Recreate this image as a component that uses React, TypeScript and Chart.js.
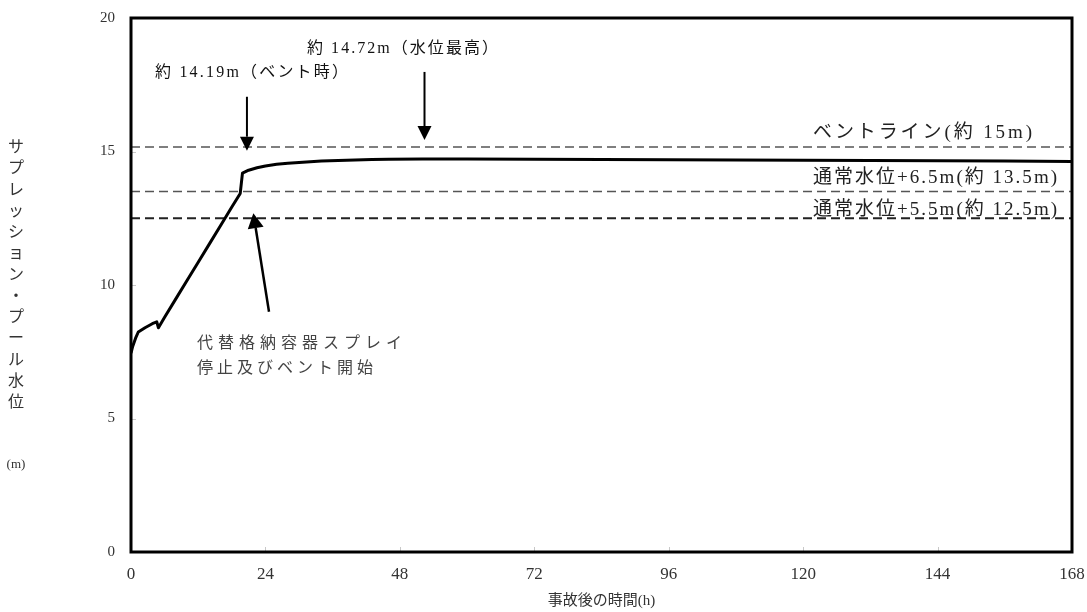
import React, { useEffect, useRef } from "react";
import { Chart, registerables } from "chart.js";

Chart.register(...registerables);

// ---- data ----
const timeH = [0, 0.3, 0.8, 1.3, 2.5, 3.8, 4.6, 4.9, 6, 8, 10, 12, 14, 16, 18, 19.5, 19.9, 21, 22.5, 24, 26, 28, 30, 32, 34, 37, 40, 43, 46, 52, 60, 72, 84, 96, 108, 120, 132, 144, 156, 168];
const levelM = [7.45, 7.7, 8.0, 8.24, 8.4, 8.55, 8.62, 8.4, 8.79, 9.48, 10.17, 10.85, 11.54, 12.23, 12.92, 13.43, 14.19, 14.3, 14.39, 14.46, 14.52, 14.56, 14.59, 14.62, 14.64, 14.66, 14.68, 14.7, 14.71, 14.72, 14.72, 14.71, 14.7, 14.69, 14.68, 14.67, 14.66, 14.65, 14.64, 14.63];

const ventLine = 15.17;
const level65 = 13.5;
const level55 = 12.5;

const xTicks = [0, 24, 48, 72, 96, 120, 144, 168];
const yTicks = [0, 5, 10, 15, 20];

const yTitleChars = ["サ", "プ", "レ", "ッ", "シ", "ョ", "ン", "・", "プ", "ー", "ル", "水", "位"];
const yUnit = "(m)";
const xTitle = "事故後の時間(h)";

// arrows in data coordinates: [t, v]
const arrowFrom = [
  [20.7, 17.05],
  [52.4, 17.98],
  [24.64, 9.0],
];
const arrowTo = [
  [20.7, 15.03],
  [52.4, 15.43],
  [21.84, 12.69],
];

// text notes
const noteTexts = [
  "約 14.72m（水位最高）",
  "約 14.19m（ベント時）",
  "ベントライン(約 15m)",
  "通常水位+6.5m(約 13.5m)",
  "通常水位+5.5m(約 12.5m)",
  "代替格納容器スプレイ",
  "停止及びベント開始",
];
const noteLeft = [307, 155, 813, 813, 813, 197, 197];
const noteY = [49, 73, 133, 178, 210, 344, 369];
const noteWidth = [191, 193, 219, 244, 244, 205, 176];
const noteSize = [16, 16, 19, 19, 19, 16, 16];
const noteColor = ["#111", "#111", "#222", "#222", "#222", "#444", "#444"];

const FONT_FAMILY = "'Liberation Serif', 'Noto Sans CJK JP', serif";

function drawFitted(ctx: CanvasRenderingContext2D, text: string, x: number, y: number, width: number) {
  const chars = Array.from(text);
  const widths = chars.map((c) => ctx.measureText(c).width);
  const total = widths.reduce((a, b) => a + b, 0);
  const extra = chars.length > 1 ? (width - total) / (chars.length - 1) : 0;
  let cx = x;
  chars.forEach((c, i) => {
    ctx.fillText(c, cx, y);
    cx += widths[i] + extra;
  });
}

const overlay = {
  id: "overlay",
  afterDatasetsDraw(chart: any) {
    const { ctx, chartArea: a, scales } = chart;
    const xs = scales.x;
    const ys = scales.y;
    ctx.save();

    // faint inner tick marks
    ctx.strokeStyle = "#c8c8c8";
    ctx.lineWidth = 1;
    xTicks.forEach((t) => {
      const px = Math.round(xs.getPixelForValue(t)) + 0.5;
      ctx.beginPath();
      ctx.moveTo(px, a.bottom);
      ctx.lineTo(px, a.bottom - 5);
      ctx.stroke();
    });
    yTicks.forEach((v) => {
      const py = Math.round(ys.getPixelForValue(v)) + 0.5;
      ctx.beginPath();
      ctx.moveTo(a.left, py);
      ctx.lineTo(a.left + 5, py);
      ctx.stroke();
    });

    // frame
    ctx.strokeStyle = "#000";
    ctx.lineWidth = 3;
    ctx.strokeRect(a.left, a.top, a.right - a.left, a.bottom - a.top);

    // arrows
    ctx.fillStyle = "#000";
    arrowFrom.forEach((f, i) => {
      const t = arrowTo[i];
      const x1 = xs.getPixelForValue(f[0]);
      const y1 = ys.getPixelForValue(f[1]);
      const x2 = xs.getPixelForValue(t[0]);
      const y2 = ys.getPixelForValue(t[1]);
      const ang = Math.atan2(y2 - y1, x2 - x1);
      const headLen = i === 2 ? 15 : 14;
      const headW = i === 2 ? 8 : 7;
      const bx = x2 - Math.cos(ang) * headLen;
      const by = y2 - Math.sin(ang) * headLen;
      ctx.lineWidth = i === 2 ? 2.5 : 2;
      ctx.beginPath();
      ctx.moveTo(x1, y1);
      ctx.lineTo(bx, by);
      ctx.stroke();
      ctx.beginPath();
      ctx.moveTo(x2, y2);
      ctx.lineTo(bx + Math.sin(ang) * headW, by - Math.cos(ang) * headW);
      ctx.lineTo(bx - Math.sin(ang) * headW, by + Math.cos(ang) * headW);
      ctx.closePath();
      ctx.fill();
    });

    // notes
    ctx.textBaseline = "middle";
    ctx.textAlign = "left";
    noteTexts.forEach((txt, i) => {
      ctx.font = `${noteSize[i]}px ${FONT_FAMILY}`;
      ctx.fillStyle = noteColor[i];
      drawFitted(ctx, txt, noteLeft[i], noteY[i], noteWidth[i]);
    });

    // y axis title (vertical stacked)
    ctx.textAlign = "center";
    ctx.fillStyle = "#333";
    ctx.font = `16px ${FONT_FAMILY}`;
    yTitleChars.forEach((c, i) => {
      ctx.fillText(c, 16, 148 + i * 21.25);
    });
    ctx.font = `13px ${FONT_FAMILY}`;
    ctx.fillText(yUnit, 16, 465);

    // x axis title
    ctx.font = `15px ${FONT_FAMILY}`;
    ctx.fillStyle = "#333";
    ctx.fillText(xTitle, (a.left + a.right) / 2, 601);

    ctx.restore();
  },
};

function dashed(v: number, color: string, width: number) {
  return {
    data: [
      { x: xTicks[0], y: v },
      { x: xTicks[xTicks.length - 1], y: v },
    ],
    borderColor: color,
    borderWidth: width,
    borderDash: [9, 5],
    pointRadius: 0,
    order: 2,
  };
}

export default function App() {
  const ref = useRef<HTMLCanvasElement | null>(null);
  useEffect(() => {
    if (!ref.current) return;
    const chart = new Chart(ref.current, {
      type: "line",
      data: {
        datasets: [
          {
            data: timeH.map((t, i) => ({ x: t, y: levelM[i] })),
            borderColor: "#000",
            borderWidth: 3,
            pointRadius: 0,
            tension: 0,
            borderJoinStyle: "round",
            order: 0,
          } as any,
          dashed(ventLine, "#555", 1.5),
          dashed(level65, "#555", 1.5),
          dashed(level55, "#222", 2),
        ],
      },
      options: {
        responsive: false,
        animation: false,
        devicePixelRatio: 1,
        layout: { padding: { top: 18, right: 15, left: 0, bottom: 0 } },
        plugins: { legend: { display: false }, tooltip: { enabled: false } },
        scales: {
          x: {
            type: "linear",
            min: 0,
            max: 168,
            afterBuildTicks: (s: any) => {
              s.ticks = xTicks.map((v) => ({ value: v }));
            },
            afterFit: (s: any) => {
              s.height = 60;
              s.paddingLeft = 0;
              s.paddingRight = 0;
            },
            grid: { display: false, drawTicks: false },
            border: { display: false },
            ticks: {
              padding: 12,
              autoSkip: false,
              maxRotation: 0,
              color: "#333",
              font: { family: "'Liberation Serif', serif", size: 17 },
            },
          },
          y: {
            type: "linear",
            min: 0,
            max: 20,
            afterBuildTicks: (s: any) => {
              s.ticks = yTicks.map((v) => ({ value: v }));
            },
            afterFit: (s: any) => {
              s.width = 131;
              s.paddingTop = 0;
              s.paddingBottom = 0;
            },
            grid: { display: false, drawTicks: false },
            border: { display: false },
            ticks: {
              padding: 16,
              color: "#333",
              font: { family: "'Liberation Serif', serif", size: 15 },
            },
          },
        },
      } as any,
      plugins: [overlay],
    });
    return () => chart.destroy();
  }, []);
  return (
    <div style={{ position: "absolute", left: 0, top: 0, width: 1087, height: 612, background: "#fff" }}>
      <canvas ref={ref} width={1087} height={612} style={{ display: "block" }} />
    </div>
  );
}
